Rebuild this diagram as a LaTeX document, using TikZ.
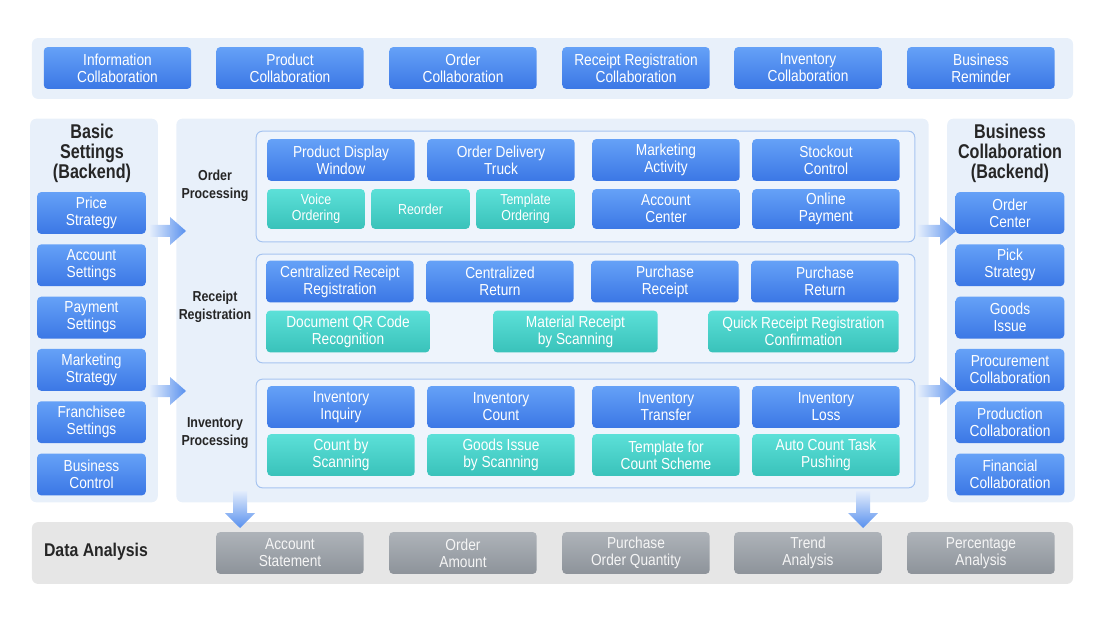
\documentclass[tikz,border=0pt]{standalone}
\usepackage{fontspec}
\setmainfont[FakeStretch=0.86]{Liberation Sans}
\newfontfamily\titlefont[FakeStretch=0.81]{Liberation Sans}
\usepackage{xcolor}
\usetikzlibrary{positioning,calc}

\definecolor{panelfill}{HTML}{E8F0FA}
\definecolor{grpfill}{HTML}{EEF4FC}
\definecolor{grpline}{HTML}{A6C4F0}
\definecolor{bluetop}{HTML}{65A1F7}
\definecolor{bluebot}{HTML}{3B77E5}
\definecolor{tealtop}{HTML}{5CE0D8}
\definecolor{tealbot}{HTML}{39C2BA}
\definecolor{greytop}{HTML}{AEB3B9}
\definecolor{greybot}{HTML}{8D939A}
\definecolor{greyband}{HTML}{E6E6E6}
\definecolor{titletext}{HTML}{262626}
\definecolor{arrlight}{HTML}{E3EDFC}
\definecolor{arrdark}{HTML}{5890EE}

\begin{document}
\begin{tikzpicture}[x=1bp, y=-1bp,
  box/.style={rounded corners=4, minimum height=42, inner sep=0, align=center,
              text=white, font=\fontsize{16}{17}\selectfont},
  bbox/.style={box, top color=bluetop, bottom color=bluebot, minimum width=148},
  sbox/.style={bbox, minimum width=109},
  tbox/.style={box, top color=tealtop, bottom color=tealbot, minimum width=148},
  gbox/.style={box, top color=greytop, bottom color=greybot, minimum width=148,
               text=white!96!black},
  panel/.style={fill=panelfill, rounded corners=6, inner sep=0},
  grp/.style={draw=grpline, fill=grpfill, rounded corners=6, line width=1, inner sep=0},
  ttl/.style={font=\titlefont\bfseries\fontsize{20}{20}\selectfont, align=center, text=titletext},
  lbl/.style={font=\bfseries\fontsize{14.5}{18}\selectfont, align=center, text=titletext},
  harr/.style={left color=arrlight, right color=arrdark,
    to path={($(\tikztostart)+(0,-6)$) -- ($(\tikztotarget)+(-16,-6)$)
      -- ($(\tikztotarget)+(-16,-14)$) -- (\tikztotarget) -- ($(\tikztotarget)+(-16,14)$)
      -- ($(\tikztotarget)+(-16,6)$) -- ($(\tikztostart)+(0,6)$) -- cycle}},
  varr/.style={top color=arrlight, bottom color=arrdark,
    to path={($(\tikztostart)+(-7,0)$) -- ($(\tikztotarget)+(-7,-15)$)
      -- ($(\tikztotarget)+(-15,-15)$) -- (\tikztotarget) -- ($(\tikztotarget)+(15,-15)$)
      -- ($(\tikztotarget)+(7,-15)$) -- ($(\tikztostart)+(7,0)$) -- cycle}}]
\useasboundingbox (0,0) rectangle (1100,633);

% panels
\node[panel, minimum width=1045, minimum height=61] (collab) at (552.5,68.5) {};
\node[panel, minimum width=128, minimum height=385] (basic) at (94,310.5) {};
\node[panel, minimum width=755, minimum height=385] (core) at (552.5,310.5) {};
\node[panel, minimum width=128, minimum height=385] (busi) at (1011,310.5) {};
\node[panel, fill=greyband, minimum width=1045, minimum height=62] (data) at (552.5,553) {};

% top row
\node[bbox] (info) at (117.5,68) {Information\\Collaboration};
\node[bbox] (prod) at (290,68) {Product\\Collaboration};
\node[bbox] (ordc) at (463,68) {Order\\Collaboration};
\node[bbox] (recc) at (636,68) {Receipt Registration\\Collaboration};
\node[bbox] (invc) at (808,68) {Inventory\\Collaboration};
\node[bbox] (remind) at (981,68) {Business\\Reminder};

% basic settings
\node[ttl] (basicttl) at (92,153) {Basic\\Settings\\(Backend)};
\node[sbox] (price) at (91.5,213) {Price\\Strategy};
\node[sbox] (acct) at (91.5,265.3) {Account\\Settings};
\node[sbox] (pay) at (91.5,317.6) {Payment\\Settings};
\node[sbox] (mkt) at (91.5,369.9) {Marketing\\Strategy};
\node[sbox] (fran) at (91.5,422.2) {Franchisee\\Settings};
\node[sbox] (ctrl) at (91.5,474.5) {Business\\Control};

% business collaboration
\node[ttl] (busittl) at (1010,153) {Business\\Collaboration\\(Backend)};
\node[sbox] (ocenter) at (1010,213) {Order\\Center};
\node[sbox] (pick) at (1010,265.3) {Pick\\Strategy};
\node[sbox] (gissue) at (1010,317.6) {Goods\\Issue};
\node[sbox] (proc) at (1010,369.9) {Procurement\\Collaboration};
\node[sbox] (prodn) at (1010,422.2) {Production\\Collaboration};
\node[sbox] (fin) at (1010,474.5) {Financial\\Collaboration};

% order processing
\node[grp, minimum width=661, minimum height=111] (ordgrp) at (585.5,186.5) {};
\node[lbl] (ordlbl) at (215,186) {Order\\Processing};
\node[bbox] (window) at (341,160) {Product Display\\Window};
\node[bbox] (truck) at (501,160) {Order Delivery\\Truck};
\node[bbox] (activity) at (666,160) {Marketing\\Activity};
\node[bbox] (stockout) at (826,160) {Stockout\\Control};
\node[tbox, minimum width=98, minimum height=40, font=\fontsize{14.5}{16}\selectfont] (voice) at (316,209) {Voice\\Ordering};
\node[tbox, minimum width=99, minimum height=40, font=\fontsize{14.5}{16}\selectfont] (reorder) at (420.5,209) {Reorder};
\node[tbox, minimum width=99, minimum height=40, font=\fontsize{14.5}{16}\selectfont] (tmplord) at (525.5,209) {Template\\Ordering};
\node[bbox, minimum height=40] (acenter) at (666,209) {Account\\Center};
\node[bbox, minimum height=40] (online) at (826,209) {Online\\Payment};

% receipt registration
\node[grp, minimum width=661, minimum height=109] (recgrp) at (585.5,308.5) {};
\node[lbl] (reclbl) at (215,307) {Receipt\\Registration};
\node[bbox] (crr) at (340,281.5) {Centralized Receipt\\Registration};
\node[bbox] (cret) at (500,281.5) {Centralized\\Return};
\node[bbox] (preceipt) at (665,281.5) {Purchase\\Receipt};
\node[bbox] (preturn) at (825,281.5) {Purchase\\Return};
\node[tbox, minimum width=164] (qr) at (348,331.5) {Document QR Code\\Recognition};
\node[tbox, minimum width=165] (material) at (575.5,331.5) {Material Receipt\\by Scanning};
\node[tbox, minimum width=191] (quick) at (803.5,331.5) {Quick Receipt Registration\\Confirmation};

% inventory processing
\node[grp, minimum width=661, minimum height=109] (invgrp) at (585.5,433.5) {};
\node[lbl] (invlbl) at (215,433) {Inventory\\Processing};
\node[bbox] (inquiry) at (341,407) {Inventory\\Inquiry};
\node[bbox] (count) at (501,407) {Inventory\\Count};
\node[bbox] (transfer) at (666,407) {Inventory\\Transfer};
\node[bbox] (loss) at (826,407) {Inventory\\Loss};
\node[tbox] (cscan) at (341,455) {Count by\\Scanning};
\node[tbox] (gscan) at (501,455) {Goods Issue\\by Scanning};
\node[tbox] (scheme) at (666,455) {Template for\\Count Scheme};
\node[tbox] (autocount) at (826,455) {Auto Count Task\\Pushing};

% data analysis
\node[font=\bfseries\fontsize{18.5}{20}\selectfont, text=titletext] (datattl) at (96,552) {Data Analysis};
\node[gbox] (stmt) at (290,553) {Account\\Statement};
\node[gbox] (amount) at (463,553) {Order\\Amount};
\node[gbox] (poq) at (636,553) {Purchase\\Order Quantity};
\node[gbox] (trend) at (808,553) {Trend\\Analysis};
\node[gbox] (pct) at (981,553) {Percentage\\Analysis};

% flow arrows
\coordinate (l1) at (150,231); \coordinate (l1e) at (186,231);
\coordinate (l2) at (150,391); \coordinate (l2e) at (186,391);
\coordinate (r1) at (918,231); \coordinate (r1e) at (956,231);
\coordinate (r2) at (918,391); \coordinate (r2e) at (956,391);
\coordinate (d1) at (240,491); \coordinate (d1e) at (240,528);
\coordinate (d2) at (863,491); \coordinate (d2e) at (863,528);
\shade[harr] (l1) to (l1e); \shade[harr] (l2) to (l2e);
\shade[harr] (r1) to (r1e); \shade[harr] (r2) to (r2e);
\shade[varr] (d1) to (d1e); \shade[varr] (d2) to (d2e);
\end{tikzpicture}
\end{document}
